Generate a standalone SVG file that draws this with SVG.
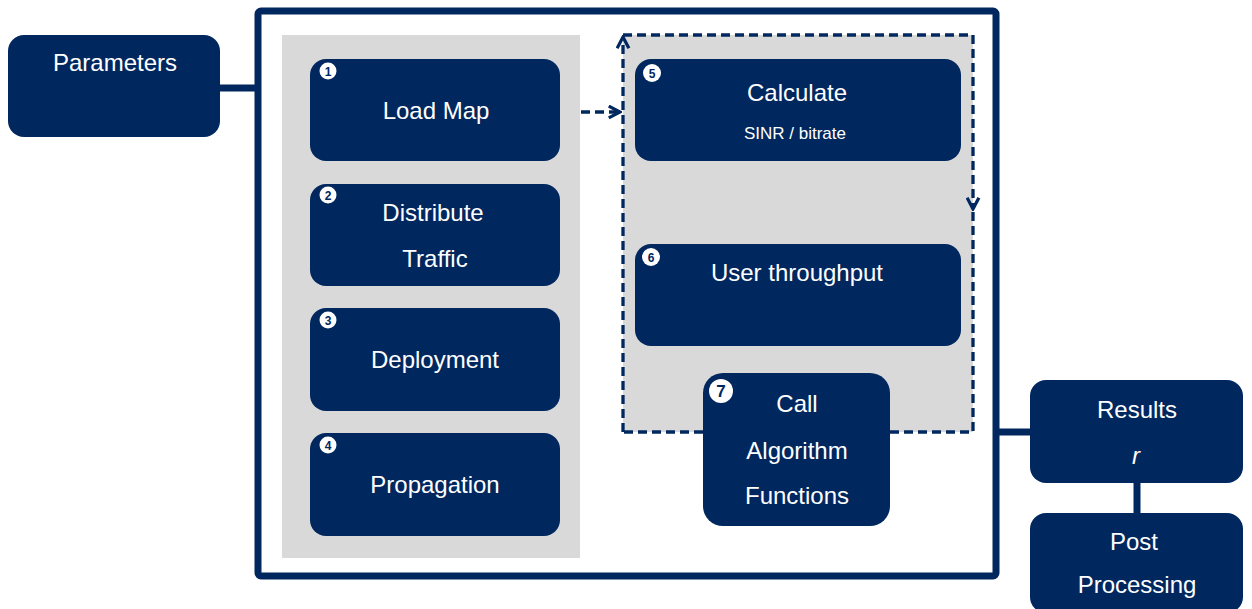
<svg xmlns="http://www.w3.org/2000/svg" width="1252" height="609" viewBox="0 0 1252 609">
  <defs>
    <marker id="chev" viewBox="0 0 14 14" refX="12" refY="7" markerWidth="15" markerHeight="15" markerUnits="userSpaceOnUse" orient="auto">
      <path d="M1.5,1.5 L12,7 L1.5,12.5" fill="none" stroke="#00285F" stroke-width="3" stroke-linejoin="miter"/>
    </marker>
    <style>
      .box { fill: #00285F; }
      .panel { fill: #D9D9D9; }
      .t { fill: #FFFFFF; font-family: "Liberation Sans", Arial, sans-serif; font-size: 24px; text-anchor: middle; }
      .ts { fill: #FFFFFF; font-family: "Liberation Sans", Arial, sans-serif; font-size: 17px; text-anchor: middle; }
      .badge { fill: #FFFFFF; }
      .bn { fill: #00285F; font-family: "Liberation Sans", Arial, sans-serif; font-weight: bold; font-size: 12px; text-anchor: middle; }
      .solid { stroke: #00285F; stroke-width: 7; fill: none; }
      .dash { stroke: #00285F; stroke-width: 3.3; fill: none; stroke-dasharray: 9 5; }
    </style>
  </defs>

  <!-- main frame -->
  <rect x="258" y="11" width="738" height="565" rx="3" fill="#FFFFFF" stroke="#00285F" stroke-width="7"/>
  <!-- panels -->
  <rect class="panel" x="282" y="35" width="298" height="523"/>
  <rect class="panel" x="623" y="35" width="350" height="397"/>

  <g id="connectors">
    <line class="solid" x1="218" y1="88" x2="256" y2="88"/>
    <line class="solid" x1="998" y1="432" x2="1032" y2="432"/>
    <line class="solid" x1="1137" y1="481" x2="1137" y2="515"/>
    <path class="dash" d="M581,112 H620" marker-end="url(#chev)"/>
    <path class="dash" d="M623,432 V37" marker-end="url(#chev)"/>
    <path class="dash" d="M623,35 H973"/>
    <path class="dash" d="M973,35 V209" marker-end="url(#chev)"/>
    <path class="dash" d="M973,212 V432 H623"/>
  </g>

  <g id="parameters">
    <rect class="box" x="8" y="35" width="212" height="102" rx="16"/>
    <text class="t" x="115" y="71">Parameters</text>
  </g>

  <g id="load-map">
    <rect class="box" x="310" y="59" width="250" height="102" rx="16"/>
    <circle class="badge" cx="328" cy="71" r="8.5"/>
    <text class="bn" x="328" y="75.5">1</text>
    <text class="t" x="436" y="119">Load Map</text>
  </g>

  <g id="distribute-traffic">
    <rect class="box" x="310" y="184" width="250" height="102" rx="16"/>
    <circle class="badge" cx="328" cy="195" r="8.5"/>
    <text class="bn" x="328" y="199.5">2</text>
    <text class="t" x="433" y="221">Distribute</text>
    <text class="t" x="435" y="267">Traffic</text>
  </g>

  <g id="deployment">
    <rect class="box" x="310" y="308" width="250" height="103" rx="16"/>
    <circle class="badge" cx="328" cy="320" r="8.5"/>
    <text class="bn" x="328" y="324.5">3</text>
    <text class="t" x="435" y="368">Deployment</text>
  </g>

  <g id="propagation">
    <rect class="box" x="310" y="433" width="250" height="103" rx="16"/>
    <circle class="badge" cx="328" cy="445" r="8.5"/>
    <text class="bn" x="328" y="449.5">4</text>
    <text class="t" x="435" y="493">Propagation</text>
  </g>

  <g id="calculate">
    <rect class="box" x="635" y="59" width="326" height="102" rx="16"/>
    <circle class="badge" cx="652" cy="73" r="9"/>
    <text class="bn" x="652" y="77.5">5</text>
    <text class="t" x="797" y="101">Calculate</text>
    <text class="ts" x="795" y="139">SINR / bitrate</text>
  </g>

  <g id="user-throughput">
    <rect class="box" x="635" y="244" width="326" height="102" rx="16"/>
    <circle class="badge" cx="651" cy="257" r="9"/>
    <text class="bn" x="651" y="261.5">6</text>
    <text class="t" x="797" y="281">User throughput</text>
  </g>

  <g id="call-algorithm">
    <rect class="box" x="703" y="373" width="187" height="153" rx="20"/>
    <circle class="badge" cx="721" cy="391" r="12"/>
    <text class="bn" x="721" y="397" style="font-size:17px">7</text>
    <text class="t" x="797" y="412">Call</text>
    <text class="t" x="797" y="459">Algorithm</text>
    <text class="t" x="797" y="504">Functions</text>
  </g>

  <g id="results">
    <rect class="box" x="1030" y="380" width="213" height="103" rx="16"/>
    <text class="t" x="1137" y="418">Results</text>
    <text class="t" x="1136" y="464" style="font-style:italic">r</text>
  </g>

  <g id="post-processing">
    <rect class="box" x="1030" y="513" width="213" height="100" rx="16"/>
    <text class="t" x="1134" y="550">Post</text>
    <text class="t" x="1137" y="593">Processing</text>
  </g>
</svg>
